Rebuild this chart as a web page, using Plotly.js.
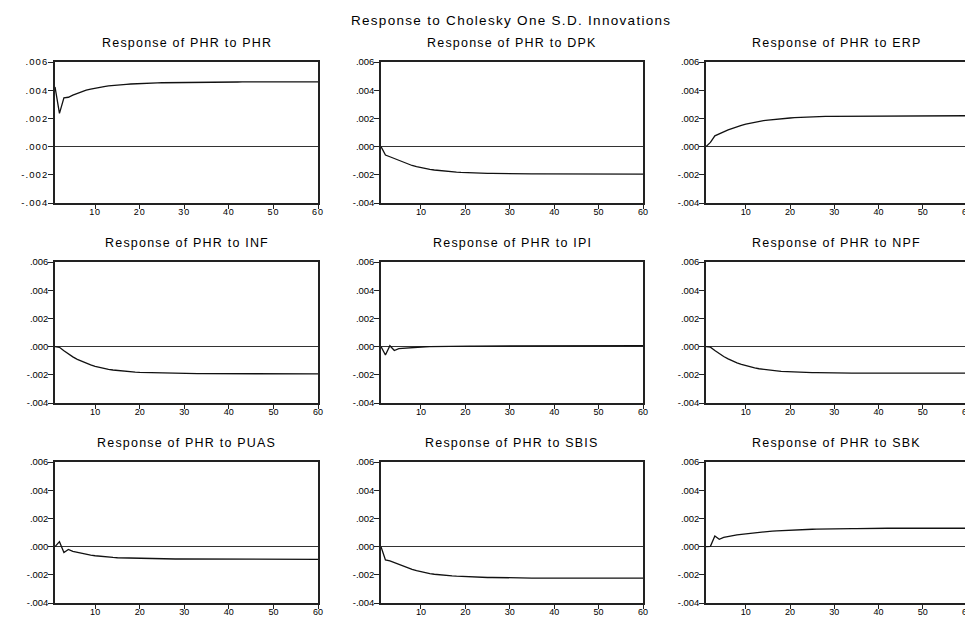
<!DOCTYPE html>
<html>
<head>
<meta charset="utf-8">
<script src="https://cdn.plot.ly/plotly-3.0.1.min.js"></script>
<style>
  html, body { margin: 0; padding: 0; background: #fff; overflow: hidden; }
  #chart { width: 975px; height: 617px; }
  .annotation-text { letter-spacing: 1.2px; }
  .annotation[data-index="0"] .annotation-text { letter-spacing: 1.3px; }
  .ytick text { letter-spacing: 1.1px; }
  .xtick text { letter-spacing: 0.9px; }
</style>
</head>
<body>
<div id="chart"></div>
<script>
// ---------------- DATA ----------------
const periods = [1,2,3,4,5,6,7,8,9,10,11,12,13,14,15,16,17,18,19,20,
  21,22,23,24,25,26,27,28,29,30,31,32,33,34,35,36,37,38,39,40,
  41,42,43,44,45,46,47,48,49,50,51,52,53,54,55,56,57,58,59,60];

const mainTitle = "Response to Cholesky One S.D. Innovations";
const panelTitles = [
  "Response of PHR to PHR", "Response of PHR to DPK", "Response of PHR to ERP",
  "Response of PHR to INF", "Response of PHR to IPI", "Response of PHR to NPF",
  "Response of PHR to PUAS", "Response of PHR to SBIS", "Response of PHR to SBK"
];

const respPHR = [0.00423,0.00236,0.00346,0.00350,0.00365,0.00378,0.00390,0.00400,0.00408,0.00415,
  0.00421,0.00426,0.00430,0.00434,0.00437,0.00440,0.00442,0.00444,0.00446,0.00447,
  0.00449,0.00450,0.00451,0.00452,0.00453,0.00453,0.00454,0.00455,0.00455,0.00456,
  0.00456,0.00456,0.00457,0.00457,0.00457,0.00457,0.00458,0.00458,0.00458,0.00458,
  0.00458,0.00458,0.00459,0.00459,0.00459,0.00459,0.00459,0.00459,0.00459,0.00459,
  0.00459,0.00459,0.00459,0.00459,0.00459,0.00459,0.00459,0.00459,0.00459,0.00459];

const respDPK = [0.00000,-0.00060,-0.00072,-0.00085,-0.00100,-0.00113,-0.00124,-0.00134,-0.00142,-0.00150,
  -0.00156,-0.00161,-0.00166,-0.00170,-0.00173,-0.00176,-0.00179,-0.00181,-0.00183,-0.00185,
  -0.00186,-0.00187,-0.00188,-0.00189,-0.00190,-0.00190,-0.00191,-0.00192,-0.00192,-0.00193,
  -0.00193,-0.00193,-0.00194,-0.00194,-0.00194,-0.00194,-0.00194,-0.00195,-0.00195,-0.00195,
  -0.00195,-0.00195,-0.00195,-0.00195,-0.00195,-0.00195,-0.00195,-0.00195,-0.00195,-0.00195,
  -0.00195,-0.00195,-0.00195,-0.00195,-0.00195,-0.00195,-0.00195,-0.00195,-0.00195,-0.00195];

const respERP = [0.00000,0.00030,0.00076,0.00088,0.00104,0.00118,0.00130,0.00141,0.00151,0.00160,
  0.00167,0.00173,0.00179,0.00184,0.00188,0.00192,0.00195,0.00198,0.00201,0.00203,
  0.00205,0.00207,0.00208,0.00210,0.00211,0.00212,0.00213,0.00214,0.00215,0.00215,
  0.00216,0.00216,0.00217,0.00217,0.00217,0.00218,0.00218,0.00218,0.00218,0.00218,
  0.00219,0.00219,0.00219,0.00219,0.00219,0.00219,0.00219,0.00219,0.00219,0.00219,
  0.00219,0.00219,0.00219,0.00219,0.00219,0.00219,0.00219,0.00219,0.00219,0.00219];

const respINF = [0.00000,-0.00005,-0.00030,-0.00053,-0.00073,-0.00090,-0.00105,-0.00118,-0.00130,-0.00140,
  -0.00148,-0.00155,-0.00161,-0.00166,-0.00170,-0.00173,-0.00176,-0.00179,-0.00181,-0.00183,
  -0.00184,-0.00186,-0.00187,-0.00188,-0.00189,-0.00189,-0.00190,-0.00190,-0.00191,-0.00191,
  -0.00192,-0.00192,-0.00192,-0.00192,-0.00192,-0.00193,-0.00193,-0.00193,-0.00193,-0.00193,
  -0.00193,-0.00193,-0.00193,-0.00193,-0.00193,-0.00193,-0.00193,-0.00193,-0.00193,-0.00193,
  -0.00193,-0.00193,-0.00193,-0.00193,-0.00193,-0.00193,-0.00193,-0.00193,-0.00193,-0.00193];

const respIPI = [0.00000,-0.00060,0.00006,-0.00028,-0.00015,-0.00012,-0.00008,-0.00006,-0.00004,-0.00002,
  -0.00001,0.00000,0.00001,0.00001,0.00002,0.00002,0.00003,0.00003,0.00003,0.00004,
  0.00004,0.00004,0.00004,0.00005,0.00005,0.00005,0.00005,0.00005,0.00005,0.00005,
  0.00005,0.00006,0.00006,0.00006,0.00006,0.00006,0.00006,0.00006,0.00006,0.00006,
  0.00006,0.00006,0.00006,0.00006,0.00006,0.00006,0.00006,0.00006,0.00006,0.00006,
  0.00006,0.00006,0.00006,0.00006,0.00006,0.00006,0.00006,0.00006,0.00006,0.00006];

const respNPF = [0.00000,-0.00004,-0.00028,-0.00050,-0.00070,-0.00087,-0.00102,-0.00115,-0.00126,-0.00136,
  -0.00144,-0.00151,-0.00157,-0.00162,-0.00166,-0.00169,-0.00172,-0.00175,-0.00177,-0.00179,
  -0.00180,-0.00182,-0.00183,-0.00184,-0.00185,-0.00185,-0.00186,-0.00186,-0.00187,-0.00187,
  -0.00187,-0.00187,-0.00188,-0.00188,-0.00188,-0.00188,-0.00188,-0.00188,-0.00188,-0.00188,
  -0.00188,-0.00188,-0.00188,-0.00188,-0.00188,-0.00188,-0.00188,-0.00188,-0.00188,-0.00188,
  -0.00188,-0.00188,-0.00188,-0.00188,-0.00188,-0.00188,-0.00188,-0.00188,-0.00188,-0.00188];

const respPUAS = [0.00000,0.00035,-0.00042,-0.00020,-0.00034,-0.00042,-0.00050,-0.00056,-0.00061,-0.00065,
  -0.00069,-0.00072,-0.00075,-0.00077,-0.00079,-0.00080,-0.00082,-0.00083,-0.00084,-0.00085,
  -0.00085,-0.00086,-0.00086,-0.00087,-0.00087,-0.00087,-0.00088,-0.00088,-0.00088,-0.00088,
  -0.00088,-0.00089,-0.00089,-0.00089,-0.00089,-0.00089,-0.00089,-0.00089,-0.00089,-0.00089,
  -0.00090,-0.00090,-0.00090,-0.00090,-0.00090,-0.00090,-0.00090,-0.00090,-0.00090,-0.00090,
  -0.00090,-0.00090,-0.00090,-0.00090,-0.00090,-0.00090,-0.00090,-0.00090,-0.00090,-0.00090];

const respSBIS = [0.00000,-0.00094,-0.00102,-0.00115,-0.00128,-0.00141,-0.00152,-0.00162,-0.00171,-0.00179,
  -0.00186,-0.00191,-0.00196,-0.00200,-0.00203,-0.00206,-0.00208,-0.00210,-0.00212,-0.00213,
  -0.00215,-0.00216,-0.00217,-0.00218,-0.00219,-0.00219,-0.00220,-0.00220,-0.00221,-0.00221,
  -0.00222,-0.00222,-0.00222,-0.00223,-0.00223,-0.00223,-0.00223,-0.00223,-0.00224,-0.00224,
  -0.00224,-0.00224,-0.00224,-0.00224,-0.00224,-0.00224,-0.00224,-0.00224,-0.00224,-0.00224,
  -0.00224,-0.00224,-0.00224,-0.00224,-0.00224,-0.00224,-0.00224,-0.00224,-0.00224,-0.00224];

const respSBK = [0.00000,0.00002,0.00075,0.00052,0.00065,0.00072,0.00078,0.00083,0.00087,0.00091,
  0.00095,0.00099,0.00102,0.00105,0.00108,0.00110,0.00112,0.00114,0.00116,0.00118,
  0.00119,0.00120,0.00121,0.00122,0.00123,0.00124,0.00125,0.00125,0.00126,0.00126,
  0.00127,0.00127,0.00128,0.00128,0.00128,0.00129,0.00129,0.00129,0.00129,0.00129,
  0.00130,0.00130,0.00130,0.00130,0.00130,0.00130,0.00130,0.00130,0.00130,0.00130,
  0.00130,0.00130,0.00130,0.00130,0.00130,0.00130,0.00130,0.00130,0.00130,0.00130];

const yTickVals = [-0.004, -0.002, 0.000, 0.002, 0.004, 0.006];
const yTickText = ["-.004", "-.002", ".000", ".002", ".004", ".006"];
const xTickVals = [10, 20, 30, 40, 50, 60];
const xTickText = ["10", "20", "30", "40", "50", "60"];

const series = [respPHR, respDPK, respERP, respINF, respIPI, respNPF, respPUAS, respSBIS, respSBK];

// ---------------- LAYOUT (pixel geometry) ----------------
const W = 975, H = 617;
const colPx = [[55, 318], [381, 643], [706, 967]];
const rowPx = [[62, 203], [262, 403], [462, 603]];
const titleY = [43, 243, 443];
const FONT = "Liberation Sans, Arial, sans-serif";

const traces = [];
const layout = {
  width: W, height: H,
  margin: {l: 0, r: 0, t: 0, b: 0},
  paper_bgcolor: "#ffffff",
  plot_bgcolor: "#ffffff",
  showlegend: false,
  font: {family: FONT, color: "#000000", size: 10},
  annotations: [{
    text: mainTitle, xref: "paper", yref: "paper",
    x: 511 / W, y: 1 - 20 / H, xanchor: "center", yanchor: "middle",
    showarrow: false, font: {family: FONT, size: 13.5, color: "#000000"}
  }]
};

for (let i = 0; i < 9; i++) {
  const r = Math.floor(i / 3), c = i % 3;
  const n = i === 0 ? "" : String(i + 1);
  traces.push({
    x: periods, y: series[i], type: "scatter", mode: "lines",
    xaxis: "x" + n, yaxis: "y" + n,
    line: {color: "#111111", width: 1.3},
    hoverinfo: "skip"
  });
  layout["xaxis" + n] = {
    domain: [colPx[c][0] / W, colPx[c][1] / W],
    anchor: "y" + n,
    range: [1, 60],
    tickmode: "array", tickvals: xTickVals, ticktext: xTickText,
    ticks: "outside", ticklen: 4, tickwidth: 1, tickcolor: "#222",
    ticklabelstandoff: -5,
    showline: true, linecolor: "#222", linewidth: 1.7, mirror: true,
    showgrid: false, zeroline: false,
    tickfont: {family: FONT, size: 9, color: "#000"}
  };
  layout["yaxis" + n] = {
    domain: [1 - rowPx[r][1] / H, 1 - rowPx[r][0] / H],
    anchor: "x" + n,
    range: [-0.004, 0.006],
    tickmode: "array", tickvals: yTickVals, ticktext: yTickText,
    ticks: "outside", ticklen: 5, tickwidth: 1, tickcolor: "#222",
    ticklabelstandoff: -2,
    showline: true, linecolor: "#222", linewidth: 1.7, mirror: true,
    showgrid: false, zeroline: true, zerolinecolor: "#333", zerolinewidth: 1,
    tickfont: {family: FONT, size: 9.5, color: "#000"}
  };
  layout.annotations.push({
    text: panelTitles[i], xref: "paper", yref: "paper",
    x: ((colPx[c][0] + colPx[c][1]) / 2) / W, y: 1 - titleY[r] / H,
    xanchor: "center", yanchor: "middle", showarrow: false,
    font: {family: FONT, size: 12.5, color: "#000000"}
  });
}

Plotly.newPlot("chart", traces, layout, {staticPlot: true, displayModeBar: false});
</script>
</body>
</html>
